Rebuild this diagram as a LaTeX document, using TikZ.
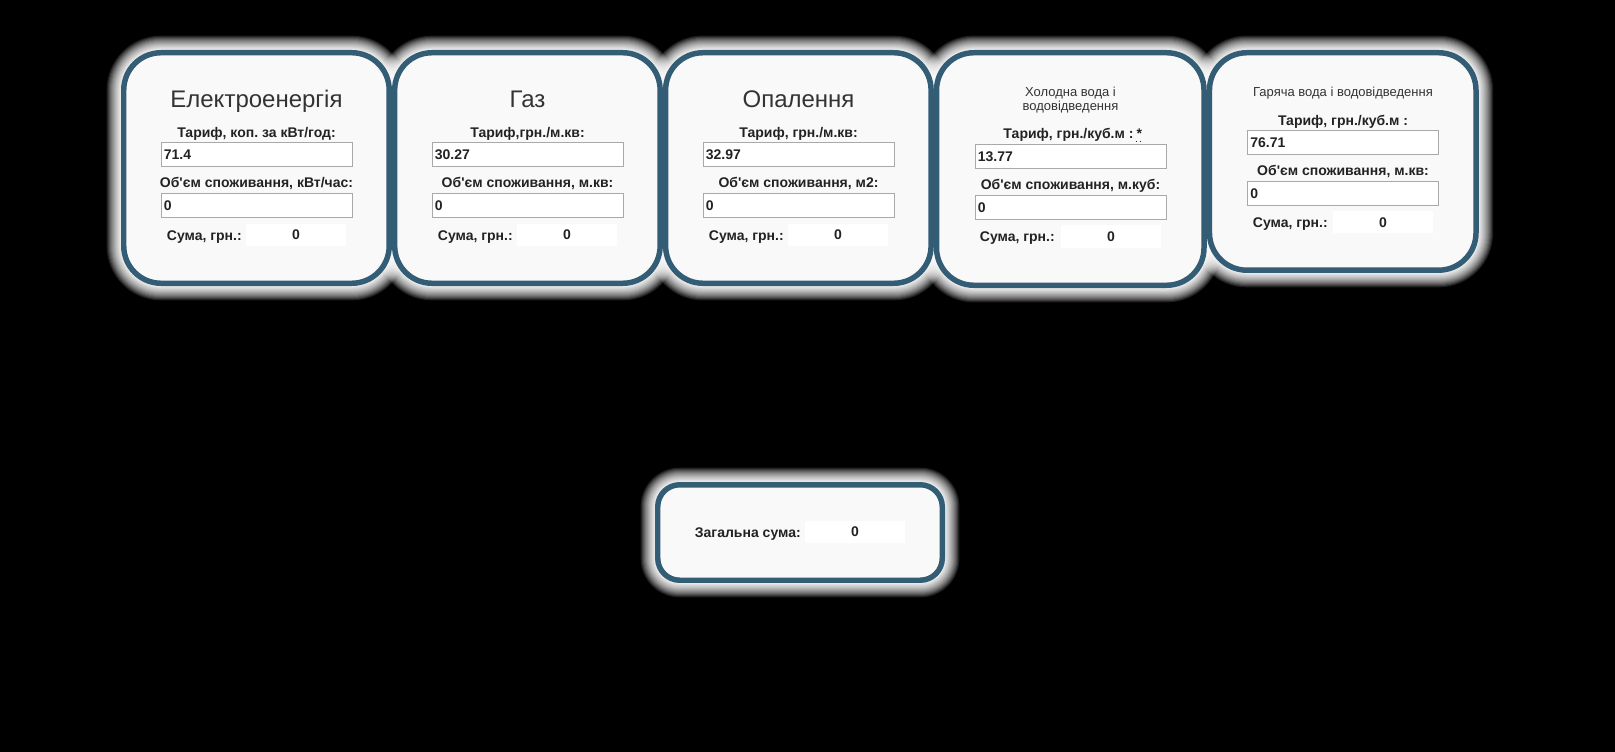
\documentclass[tikz,border=0pt]{standalone}
\usepackage{fontspec}
\setmainfont{Liberation Sans}
\frenchspacing
\usetikzlibrary{positioning}
\definecolor{cardblue}{RGB}{51,92,117}
\definecolor{cardfill}{RGB}{249,249,249}
\definecolor{inkdark}{RGB}{34,34,34}
\definecolor{titleink}{RGB}{51,51,51}
\definecolor{fieldgray}{RGB}{169,169,169}
\pgfdeclarelayer{background}
\pgfsetlayers{background,main}

\begin{document}
\begin{tikzpicture}[x=0.75pt, y=-0.75pt, node distance=0cm,
    card/.style={draw=cardblue, fill=cardfill, line width=4.1pt,
        rounded corners=28pt, inner sep=0pt,
        minimum width=199.1pt, minimum height=172.9pt},
    titlebig/.style={anchor=base, inner sep=0pt, text=titleink,
        font=\fontsize{18}{22}\selectfont},
    titlesmall/.style={anchor=base, inner sep=0pt, text=titleink,
        font=\fontsize{9.75}{11}\selectfont},
    fieldlabel/.style={anchor=base, inner sep=0pt, text=inkdark,
        font=\fontsize{10.5}{12}\selectfont\bfseries},
    sumlabel/.style={fieldlabel, anchor=base east},
    inputbox/.style={draw=fieldgray, fill=white, line width=0.75pt,
        minimum width=143.25pt, minimum height=18pt,
        text width=139pt, align=left, inner xsep=2pt, inner ysep=0pt,
        text=inkdark, font=\fontsize{10.5}{12}\selectfont\bfseries},
    sumfield/.style={fill=white, minimum width=75pt, minimum height=16.5pt,
        inner sep=0pt, text=inkdark,
        font=\fontsize{10.5}{12}\selectfont\bfseries}
]
    \useasboundingbox (0,0) rectangle (1615,752);
    % Cards
    \node [card, anchor=north west] (Card1) at (121,50) {};
    \node [card, right=0cm of Card1] (Card2) {};
    \node [card, right=0cm of Card2] (Card3) {};
    \node [card,
        minimum width=200.6pt,
        minimum height=174.4pt,
        below right=0cm and 0cm of Card3.north east
    ] (Card4) {};
    \node [card,
        minimum width=199.9pt,
        minimum height=163.1pt,
        below right=0cm and 0cm of Card4.north east
    ] (Card5) {};
    \node [card,
        rounded corners=16.5pt,
        minimum width=213.4pt,
        minimum height=71.6pt
    ] (Total) at (800,532.5) {};

    % Electricity
    \node [titlebig] (Title1) at (256.5,108) {Електроенергія};
    \node [fieldlabel] (RateLbl1) at (256.5,138) {Тариф, коп. за кВт/год:};
    \node [inputbox] (Rate1) at (256.5,154.5) {71.4};
    \node [fieldlabel] (UseLbl1) at (256.5,188) {Об\textquotesingle єм споживання, кВт/час:};
    \node [inputbox] (Use1) at (256.5,205.5) {0};
    \node [sumlabel] (SumLbl1) at (242,240) {Сума, грн.:};
    \node [sumfield] (Sum1) at (296,235) {0};

    % Gas
    \node [titlebig] (Title2) at (527.5,108) {Газ};
    \node [fieldlabel] (RateLbl2) at (527.5,138) {Тариф,грн./м.кв:};
    \node [inputbox] (Rate2) at (527.5,154.5) {30.27};
    \node [fieldlabel] (UseLbl2) at (527.5,188) {Об\textquotesingle єм споживання, м.кв:};
    \node [inputbox] (Use2) at (527.5,205.5) {0};
    \node [sumlabel] (SumLbl2) at (513,240) {Сума, грн.:};
    \node [sumfield] (Sum2) at (567,235) {0};

    % Heating
    \node [titlebig] (Title3) at (798.5,108) {Опалення};
    \node [fieldlabel] (RateLbl3) at (798.5,138) {Тариф, грн./м.кв:};
    \node [inputbox] (Rate3) at (798.5,154.5) {32.97};
    \node [fieldlabel] (UseLbl3) at (798.5,188) {Об\textquotesingle єм споживання, м2:};
    \node [inputbox] (Use3) at (798.5,205.5) {0};
    \node [sumlabel] (SumLbl3) at (784,240) {Сума, грн.:};
    \node [sumfield] (Sum3) at (838,235) {0};

    % Cold water
    \node [titlesmall] (Title4a) at (1070.5,97) {Холодна вода і};
    \node [titlesmall] (Title4b) at (1070.5,111) {водовідведення};
    \node [fieldlabel] (RateLbl4) at (1068.5,139) {Тариф, грн./куб.м :};
    \node [fieldlabel, anchor=base west] (Star4) at ([xshift=2pt]RateLbl4.base east) {*};
    \node [inputbox] (Rate4) at (1070.5,156.5) {13.77};
    \node [fieldlabel] (UseLbl4) at (1070.5,190) {Об\textquotesingle єм споживання, м.куб:};
    \node [inputbox] (Use4) at (1070.5,208) {0};
    \node [sumlabel] (SumLbl4) at (1055,242) {Сума, грн.:};
    \node [sumfield] (Sum4) at (1111,236.5) {0};
    \draw [inkdark, dotted, line width=0.6pt]
        ([yshift=-1.5pt]Star4.south west) -- ([yshift=-1.5pt]Star4.south east);

    % Hot water
    \node [titlesmall] (Title5) at (1343,97) {Гаряча вода і водовідведення};
    \node [fieldlabel] (RateLbl5) at (1343,126) {Тариф, грн./куб.м :};
    \node [inputbox] (Rate5) at (1343,143) {76.71};
    \node [fieldlabel] (UseLbl5) at (1343,176) {Об\textquotesingle єм споживання, м.кв:};
    \node [inputbox] (Use5) at (1343,194) {0};
    \node [sumlabel] (SumLbl5) at (1328,228) {Сума, грн.:};
    \node [sumfield] (Sum5) at (1383,222.5) {0};

    % Grand total
    \node [sumlabel] (TotalLbl) at (801,537) {Загальна сума:};
    \node [sumfield] (TotalSum) at (855,532) {0};

    % Glow behind the cards
    \begin{pgfonlayer}{background}
        \fill [black] (0,0) rectangle (1615,752);
        \foreach \c/\r in {Card1/30,Card2/30,Card3/30,Card4/30,Card5/30,Total/18.5}
            \foreach \k in {1,...,24}{
                \pgfmathsetmacro{\g}{\k*\k/40}
                \fill [white, fill opacity=0.12, rounded corners={(\r+0.75*\g)*1pt}]
                    ([shift={(-\g,\g)}]\c.south west) rectangle ([shift={(\g,-\g)}]\c.north east);
            }
    \end{pgfonlayer}
\end{tikzpicture}
\end{document}
